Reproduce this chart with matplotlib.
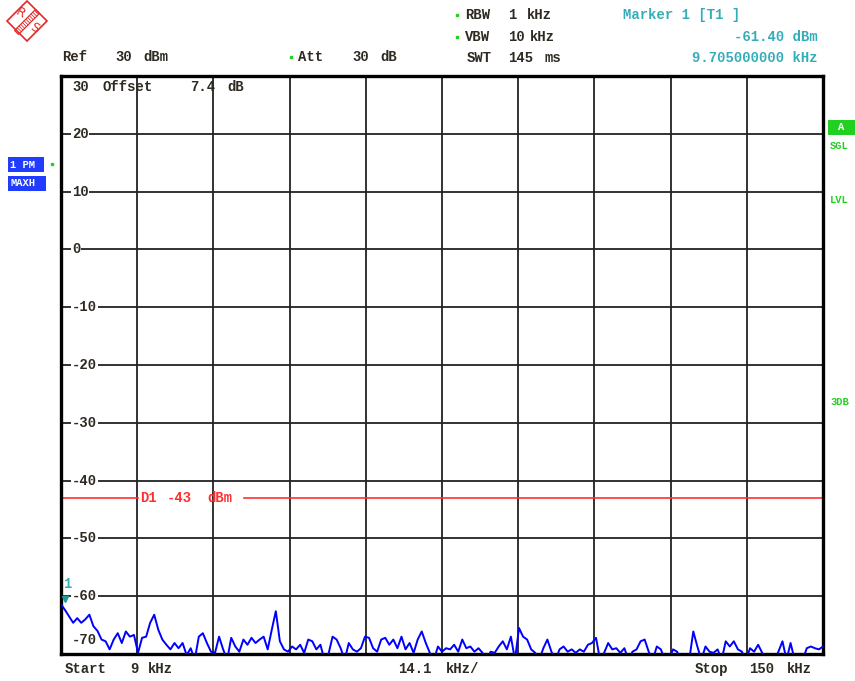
import matplotlib.pyplot as plt
import numpy as np
from matplotlib.patches import Polygon, Rectangle
from matplotlib.transforms import blended_transform_factory

# === Instrument settings ===
W, H = 855, 681
start_khz, stop_khz = 9.0, 150.0
ref_level, bottom_level = 30, -70
y_ticks = [30, 20, 10, 0, -10, -20, -30, -40, -50, -60, -70]
display_line = -43
marker_freq, marker_level = 9.705, -61.40

# trace, one value every 0.75 kHz from 9 to 150 kHz (values below -70 are clipped)
trace_dbm = [
    -61.4, -62.4, -63.5, -64.6, -63.8, -64.6, -64.0, -63.2, -65.2, -66.0,
    -67.5, -67.8, -69.2, -67.5, -66.4, -68.1, -66.1, -67.0, -66.7, -69.8,
    -67.2, -67.0, -64.6, -63.2, -65.8, -67.5, -68.4, -69.2, -68.1, -69.0,
    -68.1, -70.2, -69.0, -71.0, -67.0, -66.4, -68.1, -69.6, -69.8, -67.0,
    -69.2, -71.0, -67.2, -68.7, -69.6, -67.5, -68.4, -67.2, -68.1, -67.5,
    -67.0, -69.2, -65.8, -62.6, -67.8, -69.2, -69.6, -68.7, -69.2, -68.4,
    -69.8, -67.5, -67.8, -69.2, -68.4, -71.0, -70.0, -67.0, -67.5, -69.0,
    -71.0, -68.1, -69.2, -69.6, -69.0, -67.0, -67.2, -69.0, -69.6, -67.5,
    -67.2, -68.4, -67.5, -69.0, -67.0, -69.2, -68.1, -69.8, -67.5, -66.1,
    -68.1, -69.8, -71.0, -68.7, -69.6, -69.0, -69.2, -68.4, -69.6, -67.5,
    -69.0, -68.7, -69.6, -69.0, -69.8, -71.0, -69.6, -69.8, -68.7, -67.8,
    -69.2, -67.0, -71.0, -65.5, -67.0, -67.5, -69.2, -69.8, -71.0, -69.0,
    -67.5, -69.6, -71.0, -69.2, -68.7, -69.6, -69.2, -69.8, -69.2, -69.6,
    -68.4, -68.1, -67.2, -71.0, -69.8, -68.1, -69.2, -69.0, -69.8, -69.0,
    -71.0, -69.6, -69.2, -67.8, -67.5, -69.6, -71.0, -68.7, -69.2, -71.0,
    -71.0, -69.2, -69.6, -71.0, -71.0, -71.0, -66.1, -68.7, -71.0, -68.7,
    -69.6, -69.8, -69.2, -71.0, -67.8, -68.7, -67.8, -69.2, -69.6, -71.0,
    -69.0, -69.6, -68.4, -69.8, -71.0, -71.0, -71.0, -69.6, -67.8, -71.0,
    -68.1, -71.0, -71.0, -71.0, -69.0, -68.7, -69.0, -69.2, -68.7,
]
freq = np.linspace(start_khz, stop_khz, len(trace_dbm))

TXT = '#2e2a22'
TEAL = '#35adb8'
GREEN = '#22d022'
BLUE = '#1f3cff'
RED = '#ff3030'
MONO = ['Liberation Mono', 'DejaVu Sans Mono']
FONT = dict(family=MONO, weight='bold', size=10)

fig = plt.figure(figsize=(W / 100, H / 100), dpi=100)
fig.patch.set_facecolor('white')

# === Main grid area ===
x0, x1, yt, yb = 61, 823, 76, 654
ax = fig.add_axes([x0 / W, 1 - yb / H, (x1 - x0) / W, (yb - yt) / H])
ax.set_xlim(start_khz, stop_khz)
ax.set_ylim(bottom_level, ref_level)
ax.set_xticks(np.linspace(start_khz, stop_khz, 11))
ax.set_yticks(y_ticks)
ax.tick_params(length=0, labelleft=False, labelbottom=False)
ax.grid(True, color='#222222', linewidth=1.3)
for s in ax.spines.values():
    s.set_linewidth(2.4)
    s.set_color('black')

ax.plot(freq, trace_dbm, color='#0000ff', linewidth=1.4, zorder=3)

# display line D1 with a gap for its label
ax.axhline(display_line, xmin=0, xmax=0.101, color=RED, linewidth=1.2, zorder=2)
ax.axhline(display_line, xmin=0.240, xmax=1, color=RED, linewidth=1.2, zorder=2)

# marker 1
ax.plot([marker_freq], [marker_level + 0.9], marker='v', color='#1f9a9a', markersize=5, zorder=4)

# y labels inside the grid
tr = blended_transform_factory(ax.transAxes, ax.transData)
for v in y_ticks:
    yy = v
    if v == ref_level:
        yy = v - 1.9
    elif v == bottom_level:
        yy = v + 2.4
    bg = None if v in (ref_level, bottom_level) else dict(facecolor='white', edgecolor='none', pad=0.5)
    ax.text(0.0144, yy, str(v), transform=tr, ha='left', va='center', color=TXT,
            bbox=bg, zorder=5, **FONT)

# === Annotation layer in screen pixels ===
ov = fig.add_axes([0, 0, 1, 1], zorder=10)
ov.set_xlim(0, W)
ov.set_ylim(H, 0)
ov.axis('off')

def put(s, x, y, color=TXT, ha='left', **kw):
    ov.text(x, y, s, color=color, ha=ha, va='center', **FONT, **kw)

# header
put('Ref', 62, 57); put('30', 115, 57); put('dBm', 143, 57)
put('Att', 298, 57); put('30', 352, 57); put('dB', 380, 57)
put('RBW', 465, 15); put('1', 508, 15); put('kHz', 527, 15)
put('VBW', 465, 37); put('10', 508, 37); put('kHz', 530, 37)
put('SWT', 467, 58); put('145', 508, 58); put('ms', 545, 58)
for gx, gy in [(291, 57), (457, 15), (457, 37), (52, 164)]:
    ov.plot(gx, gy, marker='s', color=GREEN, markersize=2)

put('Marker 1 [T1 ]', 623, 15, color=TEAL)
put('-61.40 dBm', 818, 37, color=TEAL, ha='right')
put('9.705000000 kHz', 818, 58, color=TEAL, ha='right')

# in-grid texts
put('Offset', 102, 87); put('7.4', 190, 87); put('dB', 227, 87)
put('D1', 140, 498, color=RED); put('-43', 167, 498, color=RED); put('dBm', 207, 498, color=RED)
put('1', 63, 584, color=TEAL)

# footer
put('Start', 65, 669); put('9', 130, 669); put('kHz', 148, 669)
put('14.1', 398, 669); put('kHz/', 446, 669)
put('Stop', 695, 669); put('150', 749, 669); put('kHz', 787, 669)

# left trace boxes
for bx, by, bw, label in [(8, 157, 36, '1 PM'), (8, 176, 38, 'MAXH')]:
    ov.add_patch(Rectangle((bx, by), bw, 15, facecolor=BLUE, edgecolor='none'))
    ov.text(bx + 2, by + 7.5, label, color='white', ha='left', va='center',
            family=MONO, weight='bold', size=7.5)

# right status
ov.add_patch(Rectangle((828, 120), 27, 15, facecolor=GREEN, edgecolor='none'))
ov.text(841, 127.5, 'A', color='white', ha='center', va='center',
        family=MONO, weight='bold', size=7.5)
for s, sy in [('SGL', 146), ('LVL', 200), ('3DB', 402)]:
    ov.text(830, sy, s, color=GREEN, ha='left', va='center',
            family=MONO, weight='bold', size=7.5)

# R&S logo
LOGO = '#dd2a2a'
plt.rcParams['hatch.color'] = LOGO
ov.add_patch(Polygon([(27, 1), (47, 21), (27, 41), (7, 21)], closed=True,
                     fill=False, edgecolor=LOGO, linewidth=1.2))
band = np.array([(14.5, 30.5), (35.5, 9.5), (39.5, 13.5), (18.5, 34.5)])
ov.add_patch(Polygon(band, closed=True, fill=False, edgecolor=LOGO, linewidth=0.8))
for t in np.linspace(0.05, 0.95, 12):
    p = band[0] + t * (band[1] - band[0])
    ov.plot([p[0], p[0] + 4], [p[1], p[1] + 4], color=LOGO, linewidth=0.6)
ov.text(20, 13, 'R', color=LOGO, ha='center', va='center', size=9, rotation=-30)
ov.text(34, 28, 'S', color=LOGO, ha='center', va='center', size=9, rotation=-30)

fig.savefig('out.png', dpi=100)
